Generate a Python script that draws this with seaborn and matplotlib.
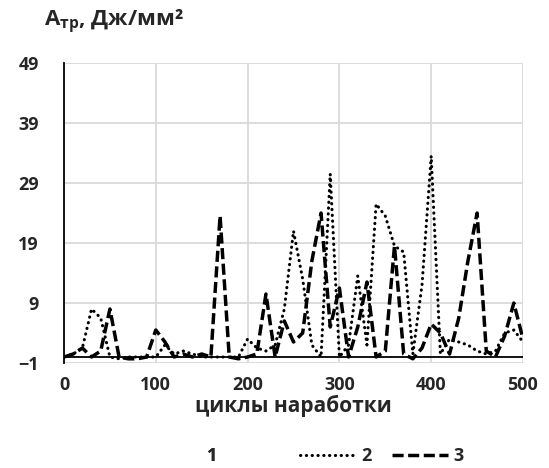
import matplotlib
matplotlib.use('Agg')
import matplotlib.pyplot as plt
import seaborn as sns
import numpy as np
import pandas as pd
from matplotlib.lines import Line2D

# cycles (x) and friction work for the curves
cycles = list(range(0, 501, 10))

series_2 = [0, 0.5, 1.5, 8, 6.5, 0, -0.3, 0, 0, 0,
            0, 2, 0.5, 1, 0.5, 0, 0, 0, 0, 0,
            3, 1.5, 1, 2, 8, 21, 13, 2, 0, 30.5,
            0, 2, 13.5, 2, 25.5, 23.5, 18.5, 17.5, 0.5, 12,
            33.5, 0.5, 3, 2.5, 2, 1, 0.5, 1, 4, 4.5,
            2.5]

series_3 = [0, 0.5, 1.5, 0, 1, 8, 0, -0.3, -0.3, 0,
            4.5, 2.5, 0, 0.5, 0, 0.5, 0, 23.5, 0, -0.3,
            0, 0.5, 10.5, 0, 6, 2.5, 4, 16, 24, 5,
            11.5, 0, 5, 12.5, 0, 1, 18.5, 0.5, -0.3, 1.5,
            5.5, 4, 0.5, 6.5, 16, 24, 1, 0, 3.5, 9,
            3]

series_labels = ['1', '2', '3']
x_ticks = [0, 100, 200, 300, 400, 500]
y_ticks = [-1, 9, 19, 29, 39, 49]

sns.set_style('white')
plt.rcParams['font.family'] = ['Open Sans', 'DejaVu Sans']
plt.rcParams['font.weight'] = 'bold'
plt.rcParams['mathtext.fontset'] = 'custom'
plt.rcParams['mathtext.rm'] = 'Open Sans'
plt.rcParams['mathtext.bf'] = 'Open Sans:bold'

df = pd.DataFrame({'cycles': cycles, 's2': series_2, 's3': series_3})

fig = plt.figure(figsize=(5.49, 4.68), dpi=100)
ax = fig.add_axes([64 / 549, 1 - 363 / 468, (523 - 64) / 549, 300 / 468])

dotted = (0, (0.1, 1.8))
dashed = (0, (3.2, 1.3))

sns.lineplot(data=df, x='cycles', y='s2', ax=ax, color='black', linewidth=2.2,
             linestyle=dotted, dash_capstyle='round', zorder=3)
sns.lineplot(data=df, x='cycles', y='s3', ax=ax, color='black', linewidth=2.5,
             linestyle=dashed, zorder=3)

# horizontal axis crosses at zero
ax.axhline(0, color='black', linewidth=1.3, zorder=2)

ax.set_xlim(0, 500)
ax.set_ylim(-1, 49)
ax.set_xticks(x_ticks)
ax.set_yticks(y_ticks)
ax.grid(True, color='#d9d9d9', linewidth=1.3)
ax.set_axisbelow(True)
for side in ['top', 'right', 'bottom']:
    ax.spines[side].set_visible(False)
ax.spines['left'].set_color('black')
ax.spines['left'].set_linewidth(1.3)
ax.tick_params(axis='both', length=0, labelsize=13)
ax.tick_params(axis='y', pad=18)
ax.tick_params(axis='x', pad=9)
for lbl in ax.get_xticklabels() + ax.get_yticklabels():
    lbl.set_fontweight('bold')

ax.set_xlabel('циклы наработки', fontsize=15, fontweight='bold', labelpad=1)
ax.set_ylabel('')

fig.text(44 / 549, 1 - 22 / 468, r'$\mathbf{A}_{\mathbf{тр}}$, Дж/мм²',
         fontsize=16, fontweight='bold', ha='left', va='center')

# legend: series 1 has no visible line
leg1 = fig.legend(handles=[Line2D([], [], linestyle='None')], labels=[series_labels[0]],
                  loc='center left', bbox_to_anchor=(207 / 549, 1 - 456 / 468),
                  frameon=False, handlelength=0, handletextpad=0, borderpad=0,
                  borderaxespad=0, prop={'weight': 'bold', 'size': 13})
h2 = Line2D([], [], color='black', linewidth=2.2, linestyle=dotted, dash_capstyle='round')
h3 = Line2D([], [], color='black', linewidth=2.5, linestyle=dashed)
leg2 = fig.legend(handles=[h2, h3], labels=series_labels[1:], ncol=2,
                  loc='center left', bbox_to_anchor=(300 / 549, 1 - 456 / 468),
                  frameon=False, handlelength=3.1, handletextpad=0.3, columnspacing=1.1,
                  borderpad=0, borderaxespad=0, prop={'weight': 'bold', 'size': 13})
fig.add_artist(leg1)

fig.savefig('out.png', dpi=100)
plt.close(fig)
